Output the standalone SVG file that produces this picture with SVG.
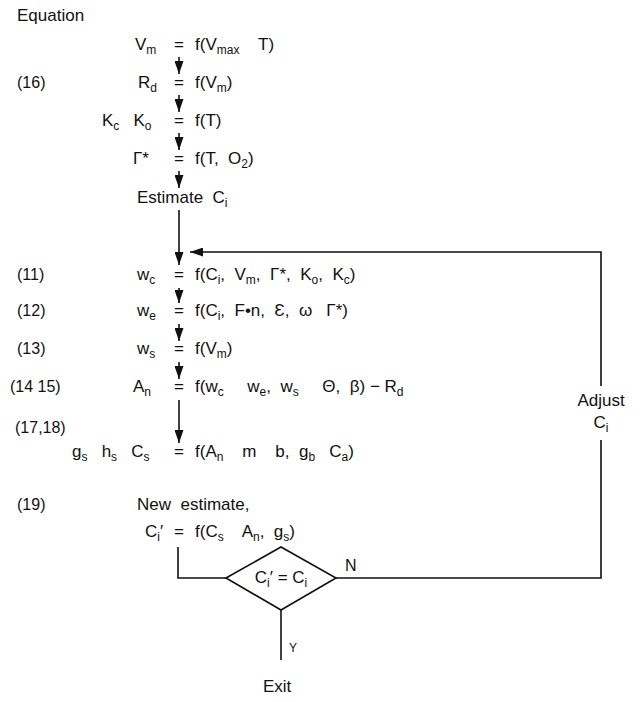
<svg xmlns="http://www.w3.org/2000/svg" width="642" height="702" viewBox="0 0 642 702">
<style>
text{font-family:"Liberation Sans",Arial,sans-serif;font-size:17px;fill:#111;white-space:pre}
.s{font-size:12px}
.lbl{font-size:16px}
.ln{stroke:#111;stroke-width:1.6;fill:none}
</style>
<defs>
<marker id="ah" markerUnits="userSpaceOnUse" markerWidth="13" markerHeight="9" refX="13" refY="4.5" orient="auto" viewBox="0 0 13 9">
<path d="M0,0 L13,4.5 L0,9 z" fill="#111"/>
</marker>
</defs>
<rect width="642" height="702" fill="#fff"/>

<g id="labels">
<text x="17" y="21">Equation</text>
<text x="17" y="88" class="lbl">(16)</text>
<text x="17" y="280" class="lbl">(11)</text>
<text x="17" y="316" class="lbl">(12)</text>
<text x="17" y="354" class="lbl">(13)</text>
<text x="10" y="392" class="lbl">(14 15)</text>
<text x="15" y="433" class="lbl">(17,18)</text>
<text x="17" y="510" class="lbl">(19)</text>
</g>

<g id="connectors">
<line class="ln" x1="179" y1="57" x2="179" y2="74" marker-end="url(#ah)"/>
<line class="ln" x1="179" y1="95" x2="179" y2="112" marker-end="url(#ah)"/>
<line class="ln" x1="179" y1="133" x2="179" y2="150" marker-end="url(#ah)"/>
<line class="ln" x1="179" y1="171" x2="179" y2="188" marker-end="url(#ah)"/>
<line class="ln" x1="179" y1="210" x2="179" y2="265" marker-end="url(#ah)"/>
<line class="ln" x1="179" y1="288" x2="179" y2="303" marker-end="url(#ah)"/>
<line class="ln" x1="179" y1="324" x2="179" y2="341" marker-end="url(#ah)"/>
<line class="ln" x1="179" y1="362" x2="179" y2="379" marker-end="url(#ah)"/>
<line class="ln" x1="179" y1="400" x2="179" y2="443" marker-end="url(#ah)"/>
<polyline class="ln" points="178,547 178,578 226,578"/>
<polyline class="ln" points="336,578 601,578 601,440"/>
<polyline class="ln" points="601,386 601,252 190,252" marker-end="url(#ah)"/>
<line class="ln" x1="281" y1="610" x2="281" y2="660"/>
<text x="345" y="571" class="lbl">N</text>
<text x="289" y="652" style="font-size:12px">Y</text>
</g>

<g id="vm">
<text x="135" y="50">V<tspan class="s" dy="4">m</tspan></text>
<text x="179" y="50" text-anchor="middle">=</text>
<text x="195" y="50">f(V<tspan class="s" dy="4">max</tspan><tspan dy="-4">    T)</tspan></text>
</g>
<g id="rd">
<text x="138" y="88">R<tspan class="s" dy="4">d</tspan></text>
<text x="179" y="88" text-anchor="middle">=</text>
<text x="195" y="88">f(V<tspan class="s" dy="4">m</tspan><tspan dy="-4">)</tspan></text>
</g>
<g id="kcko">
<text x="102" y="126">K<tspan class="s" dy="4">c</tspan><tspan dy="-4">   K</tspan><tspan class="s" dy="4">o</tspan></text>
<text x="179" y="126" text-anchor="middle">=</text>
<text x="195" y="126">f(T)</text>
</g>
<g id="gamma">
<text x="133" y="164">Γ*</text>
<text x="179" y="164" text-anchor="middle">=</text>
<text x="195" y="164">f(T,  O<tspan class="s" dy="4">2</tspan><tspan dy="-4">)</tspan></text>
</g>
<g id="estimate">
<text x="137" y="203">Estimate  C<tspan class="s" dy="4">i</tspan></text>
</g>
<g id="wc">
<text x="137" y="280">w<tspan class="s" dy="4">c</tspan></text>
<text x="179" y="280" text-anchor="middle">=</text>
<text x="195" y="280">f(C<tspan class="s" dy="4">i</tspan><tspan dy="-4">,  V</tspan><tspan class="s" dy="4">m</tspan><tspan dy="-4">,  Γ*,  K</tspan><tspan class="s" dy="4">o</tspan><tspan dy="-4">,  K</tspan><tspan class="s" dy="4">c</tspan><tspan dy="-4">)</tspan></text>
</g>
<g id="we">
<text x="137" y="316">w<tspan class="s" dy="4">e</tspan></text>
<text x="179" y="316" text-anchor="middle">=</text>
<text x="195" y="316">f(C<tspan class="s" dy="4">i</tspan><tspan dy="-4">,  F•n,  Ɛ,  ω   Γ*)</tspan></text>
</g>
<g id="ws">
<text x="137" y="354">w<tspan class="s" dy="4">s</tspan></text>
<text x="179" y="354" text-anchor="middle">=</text>
<text x="195" y="354">f(V<tspan class="s" dy="4">m</tspan><tspan dy="-4">)</tspan></text>
</g>
<g id="an">
<text x="133" y="392">A<tspan class="s" dy="4">n</tspan></text>
<text x="179" y="392" text-anchor="middle">=</text>
<text x="195" y="392">f(w<tspan class="s" dy="4">c</tspan><tspan dy="-4">     w</tspan><tspan class="s" dy="4">e</tspan><tspan dy="-4">,  w</tspan><tspan class="s" dy="4">s</tspan><tspan dy="-4">     Θ,  β) − R</tspan><tspan class="s" dy="4">d</tspan></text>
</g>
<g id="gs">
<text x="72" y="457">g<tspan class="s" dy="4">s</tspan><tspan dy="-4">   h</tspan><tspan class="s" dy="4">s</tspan><tspan dy="-4">   C</tspan><tspan class="s" dy="4">s</tspan></text>
<text x="179" y="457" text-anchor="middle">=</text>
<text x="195" y="457">f(A<tspan class="s" dy="4">n</tspan><tspan dy="-4">    m    b,  g</tspan><tspan class="s" dy="4">b</tspan><tspan dy="-4">   C</tspan><tspan class="s" dy="4">a</tspan><tspan dy="-4">)</tspan></text>
</g>
<g id="newest">
<text x="137" y="510">New  estimate,</text>
<text x="145" y="537">C<tspan class="s" dy="4">i</tspan><tspan dy="-4">′</tspan></text>
<text x="179" y="537" text-anchor="middle">=</text>
<text x="195" y="537">f(C<tspan class="s" dy="4">s</tspan><tspan dy="-4">    A</tspan><tspan class="s" dy="4">n</tspan><tspan dy="-4">,  g</tspan><tspan class="s" dy="4">s</tspan><tspan dy="-4">)</tspan></text>
</g>
<g id="decision">
<polygon class="ln" points="226,578 281,547 336,578 281,610"/>
<text x="281" y="583" text-anchor="middle">C<tspan class="s" dy="4">i</tspan><tspan dy="-4">′ = C</tspan><tspan class="s" dy="4">i</tspan></text>
</g>
<g id="adjust">
<text x="601" y="406" text-anchor="middle">Adjust</text>
<text x="601" y="428" text-anchor="middle">C<tspan class="s" dy="4">i</tspan></text>
</g>
<g id="exit">
<text x="263" y="692">Exit</text>
</g>
</svg>
